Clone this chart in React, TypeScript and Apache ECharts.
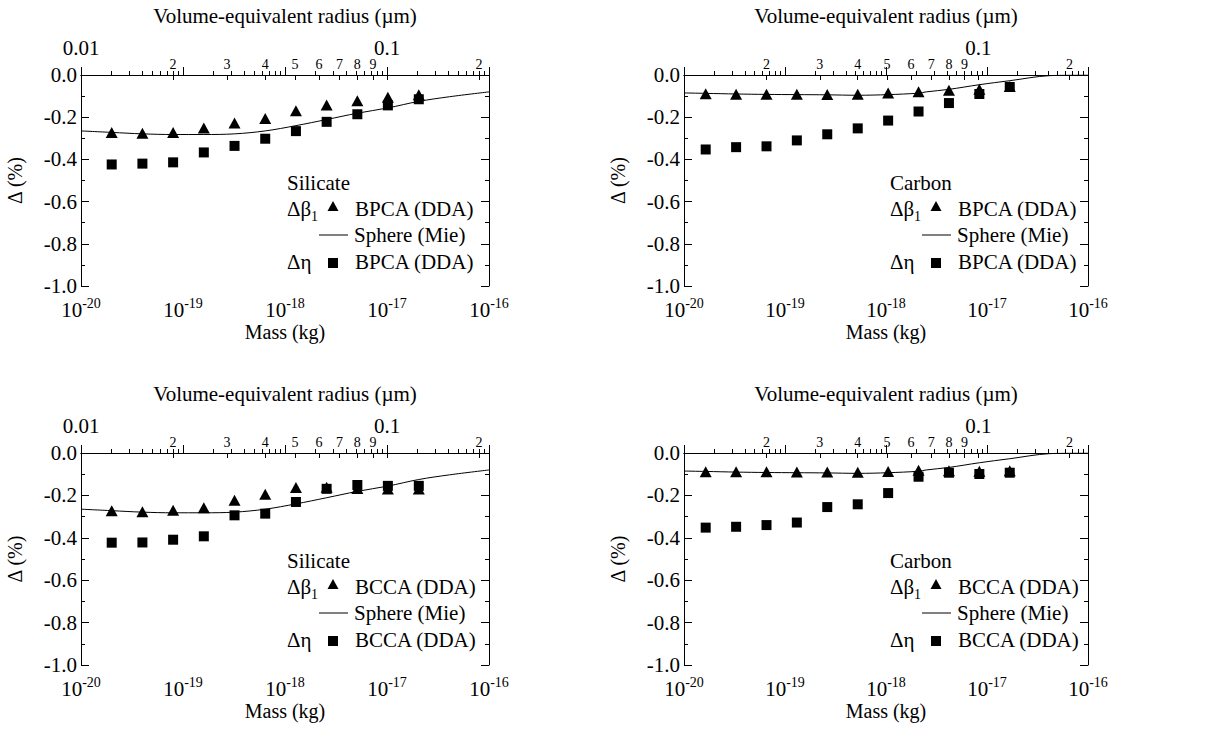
import { useEffect, useRef } from "react";
import * as echarts from "echarts";

// ---------- data ----------
const silicateMass = [2e-20, 4e-20, 8e-20, 1.6e-19, 3.2e-19, 6.4e-19, 1.28e-18, 2.56e-18, 5.12e-18, 1.02e-17, 2.05e-17];
const carbonMass = [1.64e-20, 3.28e-20, 6.56e-20, 1.31e-19, 2.62e-19, 5.25e-19, 1.05e-18, 2.1e-18, 4.2e-18, 8.4e-18, 1.68e-17];

const silBPCABeta = [-0.273, -0.276, -0.272, -0.251, -0.228, -0.206, -0.17, -0.142, -0.122, -0.106, -0.094];
const silBPCAEta = [-0.424, -0.42, -0.414, -0.367, -0.336, -0.302, -0.266, -0.222, -0.186, -0.144, -0.115];
const carBPCABeta = [-0.089, -0.091, -0.091, -0.091, -0.093, -0.091, -0.085, -0.079, -0.072, -0.068, -0.055];
const carBPCAEta = [-0.353, -0.342, -0.338, -0.31, -0.281, -0.253, -0.216, -0.173, -0.133, -0.09, -0.057];
const silBCCABeta = [-0.272, -0.277, -0.27, -0.258, -0.223, -0.195, -0.163, -0.162, -0.168, -0.17, -0.17];
const silBCCAEta = [-0.423, -0.422, -0.409, -0.393, -0.294, -0.286, -0.231, -0.169, -0.151, -0.155, -0.155];
const carBCCABeta = [-0.088, -0.089, -0.089, -0.09, -0.09, -0.091, -0.087, -0.081, -0.084, -0.086, -0.084];
const carBCCAEta = [-0.352, -0.348, -0.34, -0.328, -0.255, -0.242, -0.189, -0.112, -0.093, -0.099, -0.093];

const silSphereMass = [1e-20, 2e-20, 4e-20, 8e-20, 1.6e-19, 3.2e-19, 6.4e-19, 1.28e-18, 2.56e-18, 5.12e-18, 1.02e-17, 2.05e-17, 4.1e-17, 1e-16];
const silSphere = [-0.265, -0.272, -0.279, -0.282, -0.282, -0.279, -0.265, -0.24, -0.211, -0.181, -0.156, -0.125, -0.103, -0.08];
const carSphereMass = [1e-20, 1.64e-20, 3.28e-20, 6.56e-20, 1.31e-19, 2.62e-19, 5.25e-19, 1.05e-18, 2.1e-18, 2.5e-18, 4.2e-18, 8.4e-18, 1.68e-17, 4.2e-17, 1e-16];
const carSphere = [-0.085, -0.087, -0.09, -0.092, -0.093, -0.094, -0.096, -0.093, -0.086, -0.08, -0.068, -0.046, -0.027, -0.003, 0.0];

// mass (kg) of a sphere with radius 0.01 µm, for each material (sets the top axis)
const silicateMassAt10nm = 1e-20;
const carbonMassAt10nm = 8.2e-21;

const radiusTicks = [0.01, 0.02, 0.03, 0.04, 0.05, 0.06, 0.07, 0.08, 0.09, 0.1, 0.2];
const radiusSmallLabels = [0.02, 0.03, 0.04, 0.05, 0.06, 0.07, 0.08, 0.09, 0.2];
const radiusBigLabels = [0.01, 0.1];
const massDecades = [-20, -19, -18, -17];
const minorFactors = [2, 3, 4, 5, 6, 7, 8, 9];
const yTickLabels = ["0.0", "-0.2", "-0.4", "-0.6", "-0.8", "-1.0"];

const FONT = "'Liberation Serif', 'Times New Roman', serif";
const BLACK = "#000";

type Panel = {
  left: number; top: number; width: number; height: number;
  mass: number[]; beta: number[]; eta: number[];
  sphereMass: number[]; sphere: number[];
  m10: number; material: string; agg: string;
};

const panels: Panel[] = [
  { left: 81, top: 75, width: 408, height: 211, mass: silicateMass, beta: silBPCABeta, eta: silBPCAEta, sphereMass: silSphereMass, sphere: silSphere, m10: silicateMassAt10nm, material: "Silicate", agg: "BPCA (DDA)" },
  { left: 684, top: 75, width: 404, height: 211, mass: carbonMass, beta: carBPCABeta, eta: carBPCAEta, sphereMass: carSphereMass, sphere: carSphere, m10: carbonMassAt10nm, material: "Carbon", agg: "BPCA (DDA)" },
  { left: 81, top: 453, width: 408, height: 212, mass: silicateMass, beta: silBCCABeta, eta: silBCCAEta, sphereMass: silSphereMass, sphere: silSphere, m10: silicateMassAt10nm, material: "Silicate", agg: "BCCA (DDA)" },
  { left: 684, top: 453, width: 404, height: 212, mass: carbonMass, beta: carBCCABeta, eta: carBCCAEta, sphereMass: carSphereMass, sphere: carSphere, m10: carbonMassAt10nm, material: "Carbon", agg: "BCCA (DDA)" },
];

const lg = (v: number) => Math.log10(v);
const rPos = (r: number, m10: number) => lg(m10) + 3 * lg(r / 0.01);
const posToR = (p: number, m10: number) => 0.01 * Math.pow(10, (p - lg(m10)) / 3);

const massMinor: number[] = [];
massDecades.forEach((d) => minorFactors.forEach((k) => massMinor.push(d + lg(k))));

function buildOption() {
  const grid: any[] = [];
  const xAxis: any[] = [];
  const yAxis: any[] = [];
  const series: any[] = [];
  const graphic: any[] = [];
  const txt = { fontFamily: FONT, color: BLACK };

  panels.forEach((p, i) => {
    grid.push({ left: p.left, top: p.top, width: p.width, height: p.height, containLabel: false });
    const ax0 = xAxis.length;
    xAxis.push({
      type: "log", logBase: 10, gridIndex: i, position: "bottom", min: 1e-20, max: 1e-16,
      axisLine: { show: true, lineStyle: { color: BLACK, width: 1 } },
      axisTick: { inside: true, length: 8, lineStyle: { color: BLACK } },
      splitLine: { show: false },
      axisLabel: {
        margin: 10,
        formatter: (v: number) => `{b|10}{s|${Math.round(lg(v))}}`,
        rich: {
          b: { fontSize: 21, fontFamily: FONT, color: BLACK, lineHeight: 24, verticalAlign: "bottom" },
          s: { fontSize: 14, fontFamily: FONT, color: BLACK, verticalAlign: "top", lineHeight: 14 },
        },
      },
      name: "Mass (kg)", nameLocation: "middle", nameGap: 36,
      nameTextStyle: { ...txt, fontSize: 20 },
    });
    xAxis.push({
      type: "value", gridIndex: i, position: "bottom", min: -20, max: -16,
      axisLine: { show: false }, splitLine: { show: false }, axisLabel: { show: false },
      axisTick: { inside: true, length: 4, customValues: massMinor, lineStyle: { color: BLACK } },
    });
    xAxis.push({
      type: "value", gridIndex: i, position: "top", min: -20, max: -16,
      axisLine: { show: true, lineStyle: { color: BLACK, width: 1 } }, splitLine: { show: false },
      axisTick: { inside: true, length: 5, customValues: radiusTicks.map((r) => rPos(r, p.m10)), lineStyle: { color: BLACK } },
      axisLabel: {
        customValues: radiusSmallLabels.map((r) => rPos(r, p.m10)),
        formatter: (v: number) => String(Math.round(posToR(v, p.m10) * (posToR(v, p.m10) > 0.15 ? 10 : 100))),
        ...txt, fontSize: 14, margin: 4,
      },
    });
    xAxis.push({
      type: "value", gridIndex: i, position: "top", offset: 15, min: -20, max: -16,
      axisLine: { show: false }, axisTick: { show: false }, splitLine: { show: false },
      axisLabel: {
        customValues: radiusBigLabels.map((r) => rPos(r, p.m10)),
        formatter: (v: number) => (posToR(v, p.m10) < 0.05 ? "0.01" : "0.1"),
        ...txt, fontSize: 21, margin: 2,
      },
      name: "Volume-equivalent radius (µm)", nameLocation: "middle", nameGap: 34,
      nameTextStyle: { ...txt, fontSize: 21 },
    });
    const ay0 = yAxis.length;
    yAxis.push({
      type: "value", gridIndex: i, position: "left", min: -1, max: 0, interval: 0.2,
      axisLine: { show: true, lineStyle: { color: BLACK, width: 1 } },
      axisTick: { inside: true, length: 8, lineStyle: { color: BLACK } },
      minorTick: { show: true, splitNumber: 2, length: 4, lineStyle: { color: BLACK } },
      splitLine: { show: false }, minorSplitLine: { show: false },
      axisLabel: {
        ...txt, fontSize: 21, margin: 4,
        formatter: (v: number) => yTickLabels[Math.round(-v / 0.2)],
      },
      name: "Δ (%)", nameLocation: "middle", nameRotate: 90, nameGap: 56,
      nameTextStyle: { ...txt, fontSize: 20 },
    });
    yAxis.push({
      type: "value", gridIndex: i, position: "right", min: -1, max: 0, interval: 0.2,
      axisLine: { show: true, lineStyle: { color: BLACK, width: 1 } },
      axisTick: { inside: true, length: 8, lineStyle: { color: BLACK } },
      minorTick: { show: true, splitNumber: 2, length: 4, lineStyle: { color: BLACK } },
      splitLine: { show: false }, axisLabel: { show: false },
    });

    series.push({
      type: "line", name: "Sphere (Mie)", xAxisIndex: ax0, yAxisIndex: ay0,
      data: p.sphereMass.map((m, k) => [m, p.sphere[k]]),
      showSymbol: false, symbol: "none", smooth: 0.35,
      lineStyle: { color: BLACK, width: 1 }, silent: true,
    });
    series.push({
      type: "scatter", name: "Δβ1 " + p.agg, xAxisIndex: ax0, yAxisIndex: ay0,
      data: p.mass.map((m, k) => [m, p.beta[k]]),
      symbol: "triangle", symbolSize: [12, 11], itemStyle: { color: BLACK, opacity: 1 }, silent: true,
    });
    series.push({
      type: "scatter", name: "Δη " + p.agg, xAxisIndex: ax0, yAxisIndex: ay0,
      data: p.mass.map((m, k) => [m, p.eta[k]]),
      symbol: "rect", symbolSize: 10, itemStyle: { color: BLACK, opacity: 1 }, silent: true,
    });

    // in-plot legend
    const L = p.left, T = p.top;
    const font = `21px ${FONT}`;
    const t = (x: number, y: number, s: string, f = font) => ({
      type: "text", x, y, silent: true,
      style: { text: s, font: f, fill: BLACK, textAlign: "left", align: "left", textVerticalAlign: "middle", verticalAlign: "middle" },
    });
    graphic.push(t(L + 206, T + 108, p.material));
    graphic.push(t(L + 206, T + 134, "Δβ"));
    graphic.push(t(L + 230, T + 141, "1", `14px ${FONT}`));
    graphic.push({ type: "polygon", silent: true, shape: { points: [[L + 252, T + 126], [L + 246.5, T + 136], [L + 257.5, T + 136]] }, style: { fill: BLACK } });
    graphic.push(t(L + 274, T + 134, p.agg));
    graphic.push({ type: "line", silent: true, shape: { x1: L + 238, y1: T + 160, x2: L + 267, y2: T + 160 }, style: { stroke: BLACK, lineWidth: 1 } });
    graphic.push(t(L + 273, T + 160, "Sphere (Mie)"));
    graphic.push(t(L + 206, T + 187, "Δη"));
    graphic.push({ type: "rect", silent: true, shape: { x: L + 247, y: T + 183, width: 10, height: 10 }, style: { fill: BLACK } });
    graphic.push(t(L + 274, T + 187, p.agg));
  });

  return {
    animation: false,
    backgroundColor: "#fff",
    textStyle: { fontFamily: FONT, color: BLACK },
    grid, xAxis, yAxis, series, graphic,
  };
}

export default function App() {
  const ref = useRef<HTMLDivElement>(null);
  useEffect(() => {
    if (!ref.current) return;
    const chart = echarts.init(ref.current, undefined, { renderer: "svg" });
    chart.setOption(buildOption() as any);
    return () => chart.dispose();
  }, []);
  return (
    <div
      ref={ref}
      style={{ position: "fixed", left: 0, top: 0, width: 1209, height: 738, background: "#fff" }}
    />
  );
}
